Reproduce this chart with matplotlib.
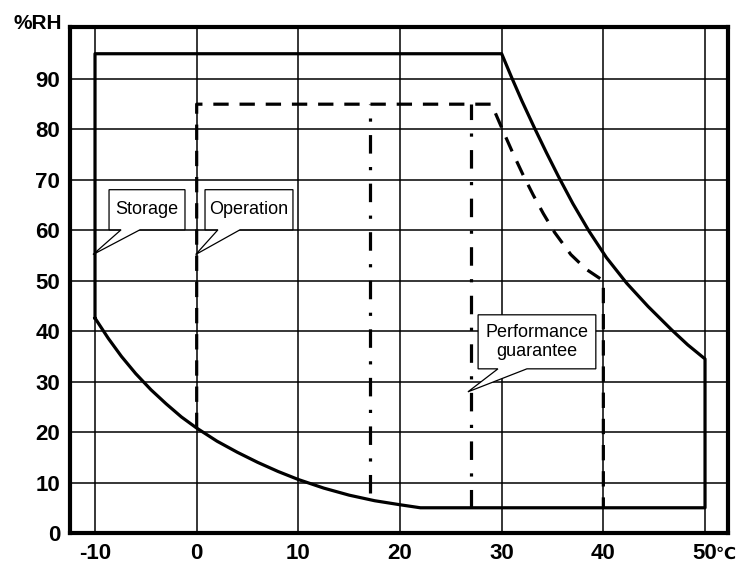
import numpy as np
import matplotlib
matplotlib.use("Agg")
import matplotlib.pyplot as plt
from matplotlib.patches import Polygon

plt.rcParams['font.family'] = ['Liberation Sans', 'DejaVu Sans']

# x ticks (deg C) and y ticks (%RH)
x_ticks = [-10, 0, 10, 20, 30, 40, 50]
y_ticks = [0, 10, 20, 30, 40, 50, 60, 70, 80, 90]

# storage envelope (solid)
storage_x = [-10, -10, 30, 31, 32, 33.2, 34.4, 35.6, 37, 38.6, 40.3,
             42.3, 44.4, 46.7, 48.3, 50, 50, 22,
             20, 17.5, 15, 12.5, 10, 8, 6, 4, 2, 0, -1.5, -3, -4.5, -6,
             -7.4, -8.7, -10]
storage_y = [42.6, 95, 95, 90.2, 85.6, 80.4, 75.4, 70.6, 65.3, 59.8, 54.6,
             49.5, 44.9, 40.3, 37.3, 34.5, 5, 5,
             5.6, 6.4, 7.5, 8.9, 10.6, 12.2, 14, 16, 18.2, 20.8, 23, 25.6, 28.4, 31.6,
             35, 38.6, 42.6]

# operation envelope (dashed)
operation_x = [0, 0, 29, 30.2, 31.1, 32.1, 33.1, 34.1, 35.2, 36.8, 38.3, 40, 40]
operation_y = [20.8, 85, 85, 79.4, 75.3, 71, 67, 63.3, 59.6, 55.2, 52.3, 50, 5]

# performance guarantee (dash-dot)
perf_x = [17, 27]
perf_bottom = [8, 5]
perf_top = [85, 85]

fig = plt.figure(figsize=(7.36, 5.64), dpi=100)
ax = fig.add_axes([70 / 736, 31 / 564, 658 / 736, 506 / 564])

ax.set_xlim(-12.46, 52.26)
ax.set_ylim(0, 100.3)

for xv in x_ticks:
    ax.axvline(xv, color='black', lw=1.1, zorder=1)
for yv in y_ticks[1:]:
    ax.axhline(yv, color='black', lw=1.1, zorder=1)

ax.plot(storage_x, storage_y, color='black', lw=2.3,
        solid_joinstyle='round', zorder=3)
ax.plot(operation_x, operation_y, color='black', lw=2.3,
        linestyle=(0, (4.8, 3.4)), dash_joinstyle='round', zorder=3)
for xv, b, t in zip(perf_x, perf_bottom, perf_top):
    ax.plot([xv, xv], [b, t], color='black', lw=2.3,
            linestyle=(0, (5.8, 4.2, 1, 4.2)), zorder=3)


def callout(ax, box, base, tip, text):
    l, r, b, t = box
    wl, wr = base
    pts = [(l, t), (r, t), (r, b), (wr, b), tip, (wl, b), (l, b)]
    ax.add_patch(Polygon(pts, closed=True, fc='white', ec='black', lw=0.9, zorder=5))
    ax.text((l + r) / 2, (b + t) / 2, text, ha='center', va='center',
            fontsize=13, linespacing=1.15, zorder=6)


callout(ax, (-8.62, -1.15, 60.1, 68.05), (-7.44, -5.58), (-10.2, 55.2), 'Storage')
callout(ax, (0.82, 9.47, 60.1, 68.05), (2.09, 4.26), (-0.1, 55.2), 'Operation')
callout(ax, (27.68, 39.26, 32.54, 43.25), (29.63, 32.48), (26.68, 27.98),
        'Performance\nguarantee')

ax.set_xticks(x_ticks)
ax.set_xticklabels([str(v) for v in x_ticks])
ax.set_yticks(y_ticks)
ax.set_yticklabels([str(v) for v in y_ticks])
ax.tick_params(length=0, labelsize=16, pad=7)
for lab in ax.get_xticklabels() + ax.get_yticklabels():
    lab.set_fontweight('bold')

for sp in ax.spines.values():
    sp.set_linewidth(3)
    sp.set_zorder(4)

ax.text(51.05, -2.3, '\u2103', ha='left', va='top', fontsize=12,
        fontweight='bold', family=['DejaVu Sans'], clip_on=False)
fig.text(62 / 736, 1 - 29 / 564, '%RH', ha='right', va='baseline',
         fontsize=15, fontweight='bold')

fig.savefig('out.png', dpi=100)
